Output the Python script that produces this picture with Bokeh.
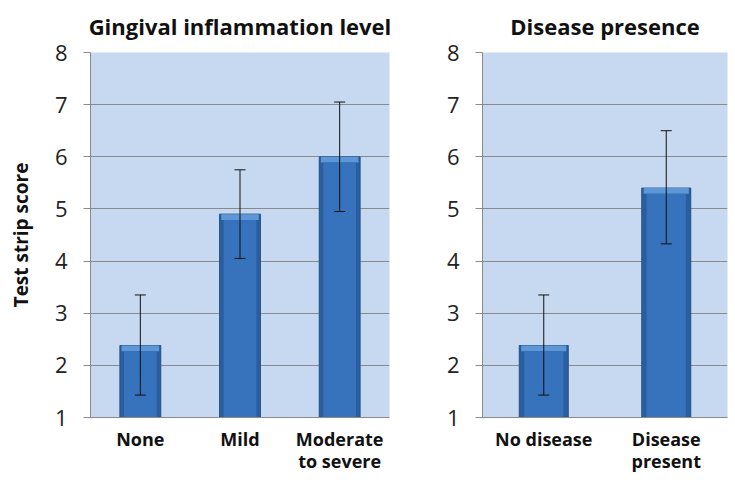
from bokeh.plotting import figure
from bokeh.models import ColumnDataSource, Whisker, Range1d, FactorRange, FixedTicker
from bokeh.layouts import row
from bokeh.embed import file_html
from bokeh.resources import INLINE

# ---- data ----
gi_categories = ["None", "Mild", "Moderate\nto severe"]
gi_means = [2.38, 4.90, 6.00]
gi_lower = [1.43, 4.05, 4.95]
gi_upper = [3.35, 5.75, 7.05]

dp_categories = ["No disease", "Disease\npresent"]
dp_means = [2.38, 5.40]
dp_lower = [1.43, 4.33]
dp_upper = [3.35, 6.50]

y_ticks = [1, 2, 3, 4, 5, 6, 7, 8]

FONT = "Open Sans"
BG = "#C6D9F1"
GRID = "#8A8A8A"

TOP, FRAME_H, BOTTOM = 50, 367, 66


def make(title, cats, means, lower, upper, border_left, frame_w, border_right, bar_w, ylabel=None):
    p = figure(x_range=FactorRange(*cats, range_padding=0), y_range=Range1d(1, 8),
               width=border_left + frame_w + border_right, height=TOP + FRAME_H + BOTTOM,
               output_backend="svg", toolbar_location=None,
               min_border_left=border_left, min_border_right=border_right,
               min_border_top=TOP, min_border_bottom=BOTTOM, title=title)
    p.title.text_font = FONT
    p.title.text_font_size = "22px"
    p.title.text_font_style = "bold"
    p.title.text_line_height = 1.0
    p.title.align = "center"
    p.title.vertical_align = "top"
    p.title.text_color = "#111111"
    p.title.standoff = 20
    p.background_fill_color = BG
    p.border_fill_color = "white"
    p.outline_line_color = None

    p.xgrid.grid_line_color = None
    p.ygrid.grid_line_color = GRID
    p.ygrid.grid_line_width = 1

    p.yaxis.ticker = FixedTicker(ticks=y_ticks)
    p.yaxis.axis_line_color = GRID
    p.yaxis.major_tick_line_color = GRID
    p.yaxis.major_tick_out = 7
    p.yaxis.major_tick_in = 0
    p.yaxis.minor_tick_line_color = None
    p.yaxis.major_label_text_font = FONT
    p.yaxis.major_label_text_font_size = "22px"
    p.yaxis.major_label_text_color = "#222222"
    p.yaxis.major_label_standoff = 16
    if ylabel:
        p.yaxis.axis_label = ylabel
        p.yaxis.axis_label_text_font = FONT
        p.yaxis.axis_label_text_font_size = "19px"
        p.yaxis.axis_label_text_font_style = "bold"
        p.yaxis.axis_label_standoff = 18
        p.yaxis.axis_label_text_color = "#111111"

    p.xaxis.axis_line_color = GRID
    p.xaxis.major_tick_line_color = None
    p.xaxis.major_tick_out = 0
    p.xaxis.major_tick_in = 0
    p.xaxis.minor_tick_line_color = None
    p.xaxis.major_label_text_font = FONT
    p.xaxis.major_label_text_font_size = "18px"
    p.xaxis.major_label_text_font_style = "bold"
    p.xaxis.major_label_text_color = "#111111"
    p.xaxis.major_label_text_line_height = 0.95
    p.xaxis.major_label_standoff = 9

    bevel = 0.11
    src = ColumnDataSource(dict(x=cats, top=means, lower=lower, upper=upper,
                                inner_top=[m - bevel for m in means]))
    # bar body (darker rim)
    p.vbar(x="x", top="top", bottom=1, width=bar_w, source=src,
           fill_color="#2B5E9F", line_color="#24518A", line_width=1)
    # top bevel highlight
    p.vbar(x="x", top="top", bottom="inner_top", width=bar_w * 0.92, source=src,
           fill_color="#5D97D6", line_color=None)
    # front face
    p.vbar(x="x", top="inner_top", bottom=1, width=bar_w * 0.8, source=src,
           fill_color="#3673BC", line_color=None)

    w = Whisker(source=src, base="x", upper="upper", lower="lower",
                line_color="#111111", line_width=1, level="overlay")
    w.upper_head.size = 11
    w.lower_head.size = 11
    w.upper_head.line_color = "#111111"
    w.lower_head.line_color = "#111111"
    p.add_layout(w)
    return p


p1 = make("Gingival inflammation level", gi_categories, gi_means, gi_lower, gi_upper,
          border_left=90, frame_w=299, border_right=31, bar_w=0.41, ylabel="Test strip score")
p2 = make("Disease presence", dp_categories, dp_means, dp_lower, dp_upper,
          border_left=62, frame_w=245, border_right=6, bar_w=0.40)

layout = row(p1, p2)
open("out.html", "w").write(file_html(layout, INLINE))
